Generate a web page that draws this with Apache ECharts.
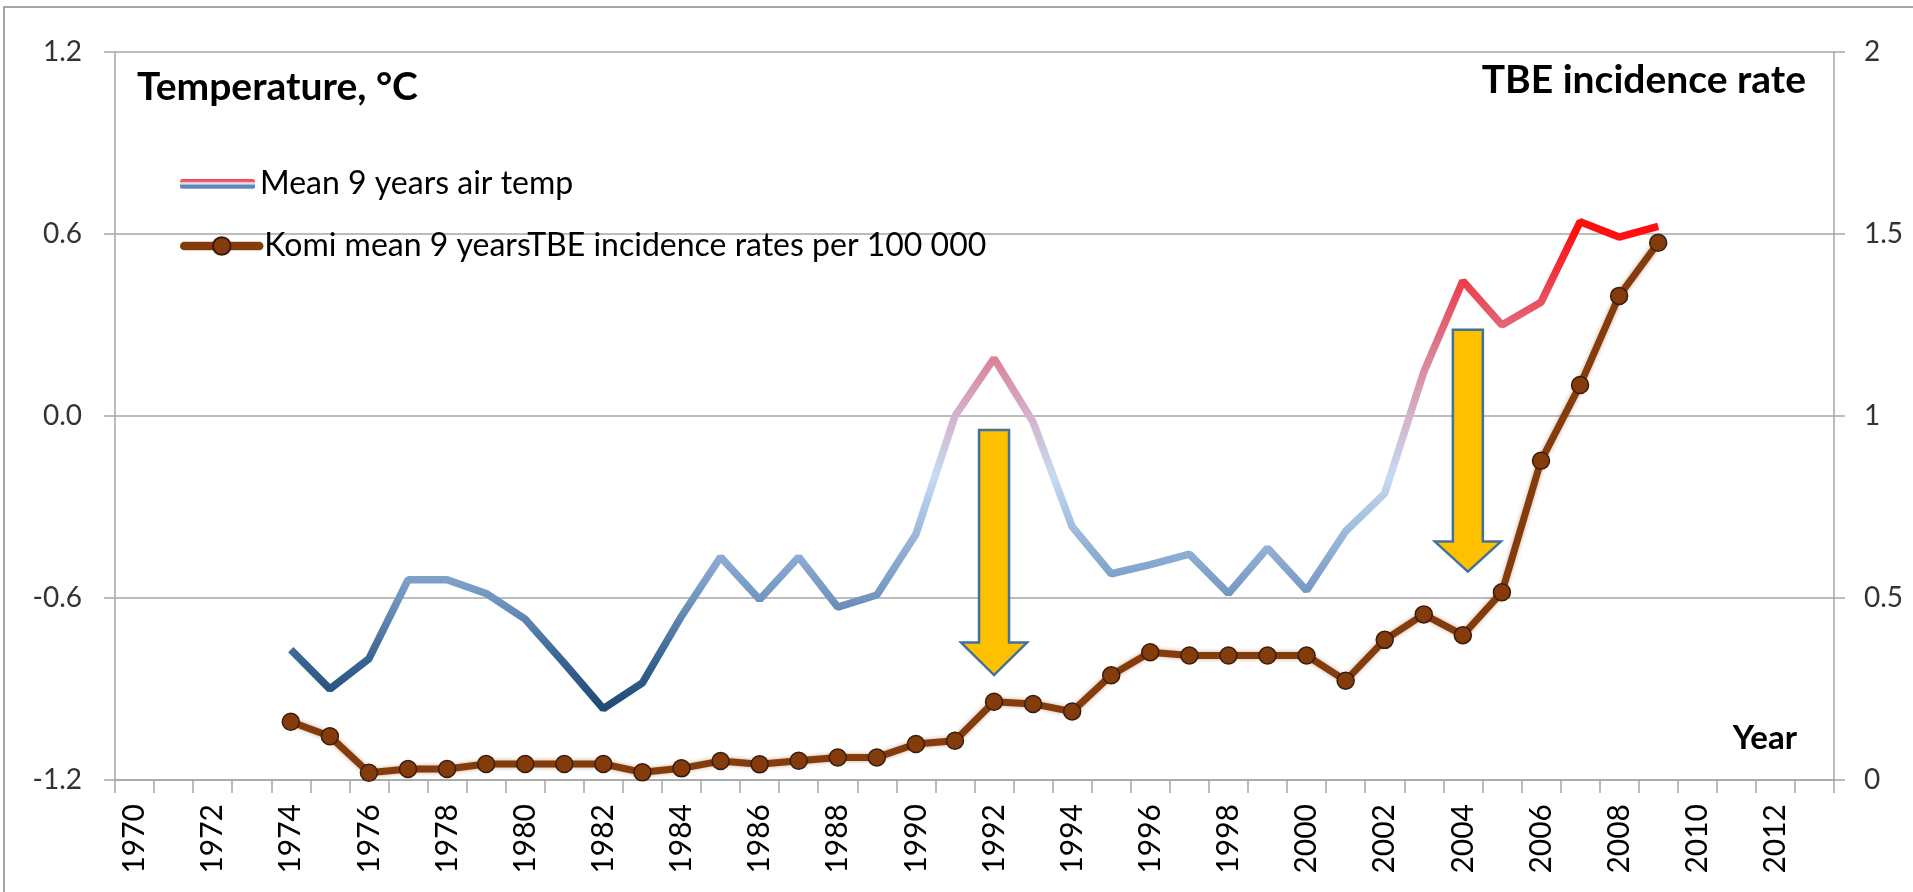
<!DOCTYPE html>
<html>
<head>
<meta charset="utf-8">
<script src="https://cdn.jsdelivr.net/npm/echarts@6/dist/echarts.min.js"></script>
<style>
  html, body { margin: 0; padding: 0; background: #fff; }
  #chart { width: 1913px; height: 892px; }
</style>
</head>
<body>
<div id="chart"></div>
<script>
// category axis
var years = ['1970','1971','1972','1973','1974','1975','1976','1977','1978','1979',
             '1980','1981','1982','1983','1984','1985','1986','1987','1988','1989',
             '1990','1991','1992','1993','1994','1995','1996','1997','1998','1999',
             '2000','2001','2002','2003','2004','2005','2006','2007','2008','2009',
             '2010','2011','2012','2013'];

// mean 9 years air temperature, °C (left axis)
var airTemp = [null, null, null, null,
  -0.77, -0.90, -0.80, -0.54, -0.54, -0.585, -0.67, -0.815, -0.965, -0.88,
  -0.66, -0.465, -0.605, -0.465, -0.63, -0.59, -0.39, 0.0, 0.19, -0.02,
  -0.365, -0.52, -0.49, -0.455, -0.585, -0.435, -0.575, -0.38, -0.255, 0.145,
  0.445, 0.30, 0.375, 0.64, 0.59, 0.625,
  null, null, null, null];

// Komi mean 9 years TBE incidence per 100 000 (right axis)
var tbeRate = [null, null, null, null,
  0.16, 0.12, 0.02, 0.03, 0.03, 0.044, 0.044, 0.044, 0.044, 0.021,
  0.032, 0.052, 0.043, 0.053, 0.062, 0.062, 0.099, 0.108, 0.215, 0.209,
  0.188, 0.288, 0.351, 0.342, 0.342, 0.342, 0.342, 0.273, 0.385, 0.455,
  0.398, 0.516, 0.877, 1.085, 1.33, 1.476,
  null, null, null, null];

var tempName = 'Mean 9 years air temp';
var tbeName = 'Komi mean 9 yearsTBE incidence rates per 100 000';

// down arrows (in left-axis units)
var arrows = [
  { year: '1992', top: -0.046, neck: -0.747, tip: -0.854, dx: 0 },
  { year: '2004', top: 0.284, neck: -0.414, tip: -0.513, dx: 5 }
];

var gridColor = '#a6a6a6';
var font = 'Lato, "Open Sans", sans-serif';

var chart = echarts.init(document.getElementById('chart'));

var option = {
  animation: false,
  backgroundColor: '#fff',
  grid: { left: 115, right: 79, top: 52, bottom: 112, containLabel: false },
  title: [
    { text: 'Temperature, °C', left: 137, top: 68, padding: 0,
      textStyle: { fontFamily: font, fontWeight: 'bold', fontSize: 39, color: '#000' } },
    { text: 'TBE incidence rate', right: 107, top: 61, padding: 0,
      textStyle: { fontFamily: font, fontWeight: 'bold', fontSize: 39, color: '#000' } },
    { text: 'Year', right: 116, top: 722, padding: 0,
      textStyle: { fontFamily: font, fontWeight: 'bold', fontSize: 33, color: '#000' } }
  ],
  legend: [
    {
      data: [{
        name: tempName,
        icon: 'roundRect',
        itemStyle: {
          color: new echarts.graphic.LinearGradient(0, 0, 0, 1, [
            { offset: 0, color: '#ef4a58' },
            { offset: 0.28, color: '#ec6070' },
            { offset: 0.38, color: '#f6e4ec' },
            { offset: 0.52, color: '#c2d6ee' },
            { offset: 0.62, color: '#5f88b6' },
            { offset: 0.88, color: '#5f88b6' },
            { offset: 1, color: '#a9c0dc' }
          ])
        }
      }],
      left: 180, top: 168, padding: 0, itemWidth: 75, itemHeight: 10,
      selectedMode: false,
      textStyle: { fontFamily: font, fontSize: 32, color: '#000' }
    },
    {
      data: [{ name: tbeName, lineStyle: { width: 8.5, cap: 'round' } }],
      left: 180, top: 230, padding: 0, itemWidth: 75, itemHeight: 22,
      selectedMode: false,
      textStyle: { fontFamily: font, fontSize: 32, color: '#000' }
    }
  ],
  visualMap: {
    type: 'continuous', show: false, seriesIndex: 0, dimension: 1,
    min: -1.0, max: 0.8,
    inRange: { color: ['#1b4470', '#3a6592', '#7196c0', '#98b6da', '#c6daf3',
                       '#d4b3cb', '#db8094', '#e84a57', '#ff1010', '#ff0000'] }
  },
  xAxis: {
    type: 'category',
    data: years,
    boundaryGap: true,
    axisLine: { onZero: false, lineStyle: { color: gridColor, width: 1.5 } },
    axisTick: { show: true, interval: 0, length: 13, lineStyle: { color: gridColor, width: 1.5 } },
    axisLabel: { interval: 1, rotate: 90, margin: 24, fontFamily: font,
                 fontSize: 30, color: '#000' },
    splitLine: { show: false }
  },
  yAxis: [
    {
      type: 'value', min: -1.2, max: 1.2, interval: 0.6, position: 'left',
      axisLine: { show: true, lineStyle: { color: gridColor, width: 1.5 } },
      axisTick: { show: true, length: 11, lineStyle: { color: gridColor, width: 1.5 } },
      axisLabel: { margin: 33, fontFamily: font, fontSize: 28, color: '#333',
                   formatter: function (v) { return v.toFixed(1); } },
      splitLine: { show: true, lineStyle: { color: gridColor, width: 1.5 } }
    },
    {
      type: 'value', min: 0, max: 2, interval: 0.5, position: 'right',
      axisLine: { show: true, lineStyle: { color: gridColor, width: 1.5 } },
      axisTick: { show: true, length: 11, lineStyle: { color: gridColor, width: 1.5 } },
      axisLabel: { margin: 30, fontFamily: font, fontSize: 28, color: '#333' },
      splitLine: { show: false }
    }
  ],
  series: [
    {
      name: tempName,
      type: 'line',
      yAxisIndex: 0,
      data: airTemp,
      symbol: 'none',
      lineStyle: { width: 7.5 },
      z: 2
    },
    {
      name: tbeName,
      type: 'line',
      yAxisIndex: 1,
      data: tbeRate,
      symbol: 'circle',
      symbolSize: 17,
      showSymbol: true,
      itemStyle: { color: '#843c0c', borderColor: '#3a1c0a', borderWidth: 1.5 },
      lineStyle: { color: '#843c0c', width: 7, shadowColor: 'rgba(132,60,12,0.45)', shadowBlur: 4 },
      z: 3
    }
  ]
};

chart.setOption(option);

// arrows placed from axis values
function arrowPoints(a) {
  var i = years.indexOf(a.year);
  var pTop = chart.convertToPixel({ xAxisIndex: 0, yAxisIndex: 0 }, [i, a.top]);
  var pNeck = chart.convertToPixel({ xAxisIndex: 0, yAxisIndex: 0 }, [i, a.neck]);
  var pTip = chart.convertToPixel({ xAxisIndex: 0, yAxisIndex: 0 }, [i, a.tip]);
  var cx = pTop[0] + a.dx;
  var sw = 15, hw = 33;
  return [
    [cx - sw, pTop[1]], [cx + sw, pTop[1]], [cx + sw, pNeck[1]], [cx + hw, pNeck[1]],
    [cx, pTip[1]], [cx - hw, pNeck[1]], [cx - sw, pNeck[1]]
  ];
}

var graphics = [{
  type: 'rect', silent: true, z: 0,
  shape: { x: 4, y: 7, width: 1920, height: 900 },
  style: { fill: 'none', stroke: '#a6a6a6', lineWidth: 2 }
}];
arrows.forEach(function (a) {
  graphics.push({
    type: 'polygon', silent: true, z: 10,
    shape: { points: arrowPoints(a) },
    style: { fill: '#ffc000', stroke: '#41719c', lineWidth: 2.5 }
  });
});
chart.setOption({ graphic: graphics });
</script>
</body>
</html>
